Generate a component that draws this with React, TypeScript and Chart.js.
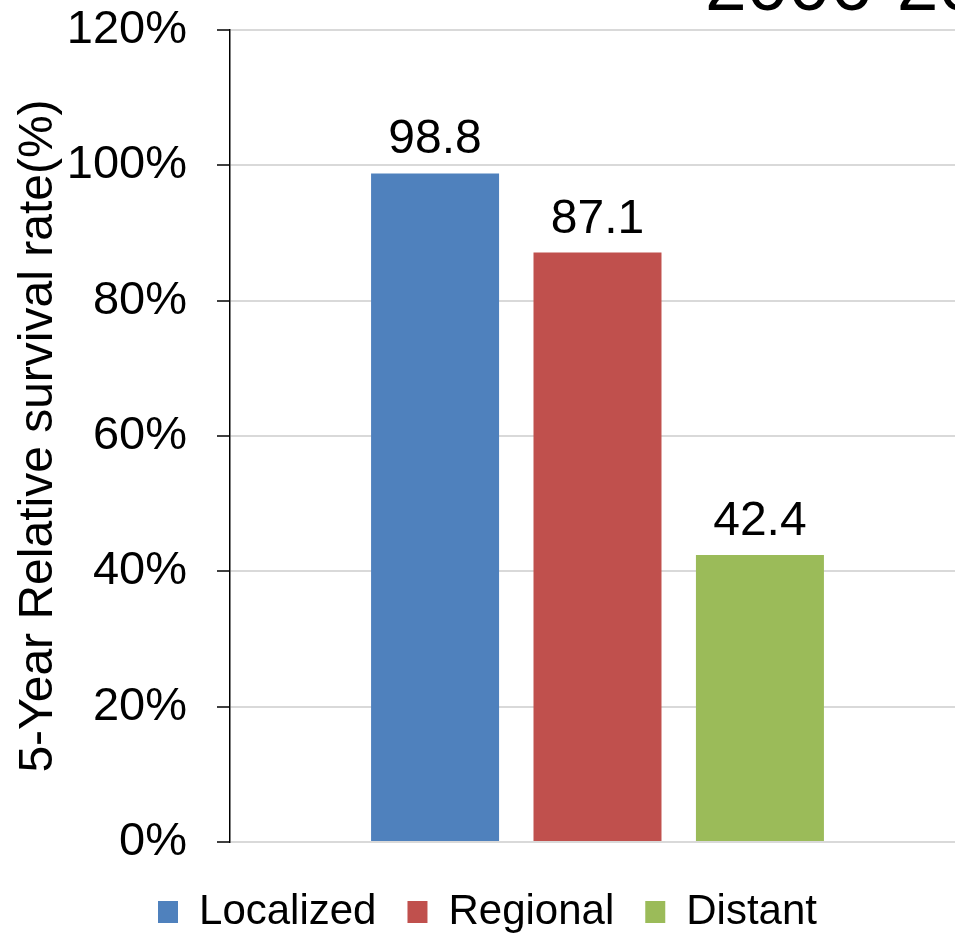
import React, { useEffect, useRef } from "react";
import { Chart, registerables } from "chart.js";

Chart.register(...registerables);

const categories = [""];
const seriesNames = ["Localized", "Regional", "Distant"];
const seriesValues = [98.8, 87.1, 42.4];
const seriesColors = ["#4F81BD", "#C0504D", "#9BBB59"];
const yTickValues = [0, 20, 40, 60, 80, 100, 120];
const yAxisTitle = "5-Year Relative survival rate(%)";
const chartTitle = "2006-2010";

const FONT = "'Liberation Sans', Arial, sans-serif";

const valueLabelPlugin = {
  id: "valueLabels",
  afterDatasetsDraw(chart: any) {
    const ctx = chart.ctx;
    ctx.save();
    ctx.font = `48px ${FONT}`;
    ctx.fillStyle = "#000";
    ctx.textAlign = "center";
    ctx.textBaseline = "alphabetic";
    chart.data.datasets.forEach((ds: any, i: number) => {
      const meta = chart.getDatasetMeta(i);
      meta.data.forEach((bar: any, j: number) => {
        ctx.fillText(String(ds.data[j]), bar.x, bar.y - 20);
      });
    });
    ctx.restore();
  },
};

const titlePlugin = {
  id: "cutTitle",
  afterDraw(chart: any) {
    const ctx = chart.ctx;
    ctx.save();
    ctx.font = `75px ${FONT}`;
    ctx.fillStyle = "#000";
    ctx.textAlign = "left";
    ctx.textBaseline = "alphabetic";
    ctx.fillText(chartTitle, 705, 10);
    ctx.restore();
  },
};

export default function App() {
  const ref = useRef<HTMLCanvasElement>(null);
  useEffect(() => {
    if (!ref.current) return;
    const chart = new Chart(ref.current, {
      type: "bar",
      data: {
        labels: categories,
        datasets: seriesNames.map((name, i) => ({
          label: name,
          data: [seriesValues[i]],
          backgroundColor: seriesColors[i],
          borderWidth: 0,
          categoryPercentage: 0.663,
          barPercentage: 0.788,
        })),
      },
      options: {
        animation: false,
        responsive: false,
        maintainAspectRatio: false,
        layout: { padding: { top: 0, right: 10, left: 10, bottom: -7 } },
        plugins: {
          legend: {
            position: "bottom",
            labels: {
              font: { family: FONT, size: 42 },
              color: "#000",
              boxWidth: 20,
              boxHeight: 22,
              padding: 31,
            },
          },
          tooltip: { enabled: false },
          title: { display: false },
        },
        scales: {
          x: {
            display: true,
            ticks: { display: false },
            grid: { display: false },
            border: { display: false },
            afterFit(axis: any) {
              axis.height = 18;
            },
          },
          y: {
            min: 0,
            max: 120,
            afterBuildTicks(axis: any) {
              axis.ticks = yTickValues.map((v) => ({ value: v }));
            },
            afterFit(axis: any) {
              axis.width = 220;
              axis.paddingTop = 30;
              axis.paddingBottom = 0;
            },
            ticks: {
              font: { family: FONT, size: 47 },
              color: "#000",
              padding: 30,
              callback: (v: any) => `${v}%`,
            },
            grid: {
              color: "#D9D9D9",
              lineWidth: 2,
              tickColor: "#000",
              tickLength: 13,
              tickWidth: 1.5,
            },
            border: { display: true, color: "#000", width: 1.5 },
            title: {
              display: true,
              text: yAxisTitle,
              font: { family: FONT, size: 48 },
              color: "#000",
              padding: 0,
            },
          },
        },
      },
      plugins: [valueLabelPlugin, titlePlugin],
    });
    return () => chart.destroy();
  }, []);
  return (
    <div
      style={{
        position: "absolute",
        left: 0,
        top: 0,
        width: 955,
        height: 936,
        overflow: "hidden",
        background: "#fff",
      }}
    >
      <canvas ref={ref} width={975} height={936} style={{ display: "block" }} />
    </div>
  );
}
